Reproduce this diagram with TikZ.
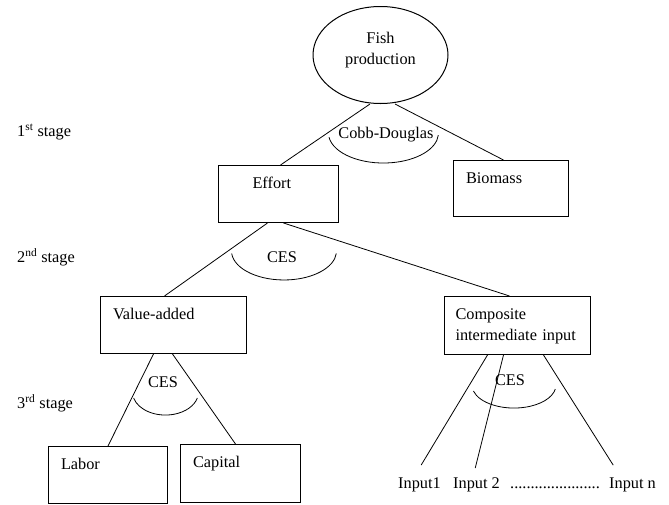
\documentclass[tikz,border=0pt]{standalone}
\usepackage{fontspec}
\setmainfont{Liberation Serif}
\usetikzlibrary{shapes.geometric}

\tikzset{
  box/.style={draw, line width=1pt, anchor=north west, align=left,
    inner xsep=12.5pt, inner ysep=11.5pt, text height=11pt},
  conn/.style={line width=0.8pt},
  arcline/.style={line width=0.8pt},
  lbl/.style={inner sep=0pt},
}

\begin{document}
\begin{tikzpicture}[x=1pt, y=-1pt, font=\fontsize{16.3pt}{21pt}\selectfont]
    \useasboundingbox (0,0) rectangle (669,504);

    % Top node
    \node[ellipse, draw, line width=1pt, minimum width=135pt, minimum height=97pt,
          inner sep=0pt, align=center, text height=32pt, text depth=13pt]
          (fish) at (380.5,55) {Fish\\production};

    % Boxes
    \node[box, text width=95pt, text depth=23pt] (effort) at (218,165) {\hspace*{21.5pt}Effort};
    \node[box, text width=90pt, text depth=22pt] (biomass) at (453,160) {Biomass};
    \node[box, text width=121pt, text depth=23pt] (valueadded) at (100,296) {Value-added};
    \node[box, inner xsep=11pt, text width=124pt, text depth=24pt] (composite) at (444,296)
          {Composite\\intermediate input};
    \node[box, text width=94pt, text depth=23pt] (labor) at (48,446) {Labor};
    \node[box, text width=95pt, text depth=24pt] (capital) at (180,444) {Capital};

    % Inputs
    \node[lbl, anchor=base west] (input1) at (398,488) {Input1};
    \node[lbl, anchor=base west] (input2) at (453,488) {Input 2};
    \node[lbl, anchor=base west] (dots) at (510,488) {......................};
    \node[lbl, anchor=base west] (inputn) at (609,488) {Input n};

    % Stages
    \node[lbl, anchor=west] (stage1) at (17,132) {1\textsuperscript{st} stage};
    \node[lbl, anchor=west] (stage2) at (17,257) {2\textsuperscript{nd} stage};
    \node[lbl, anchor=west] (stage3) at (17,403) {3\textsuperscript{rd} stage};

    % Connectors
    \draw[conn] ([xshift=-10.5pt]fish.south) -- ([xshift=2pt]effort.north);
    \draw[conn] ([xshift=14.5pt]fish.south) -- ([xshift=-7.5pt]biomass.north);
    \draw[conn] ([xshift=-11pt]effort.south) -- ([xshift=-9pt]valueadded.north);
    \draw[conn] ([xshift=5pt]effort.south) -- ([xshift=-8pt]composite.north);
    \draw[conn] ([xshift=-20pt]valueadded.south) -- (labor.north);
    \draw[conn] ([xshift=-1pt]valueadded.south) -- ([xshift=-5pt]capital.north);
    \draw[conn] ([xshift=-30pt]composite.south) -- ([xshift=1.7pt,yshift=12pt]input1.north);
    \draw[conn] ([xshift=-14pt]composite.south) -- ([xshift=-1.3pt,yshift=9pt]input2.north);
    \draw[conn] ([xshift=26pt]composite.south) -- ([xshift=-19.3pt,yshift=12pt]inputn.north);

    % Function arcs
    \draw[arcline] (329,137.2) arc[start angle=188, end angle=356, x radius=55pt, y radius=30pt];
    \draw[arcline] (231.7,253.5) arc[start angle=185, end angle=355, x radius=52.5pt, y radius=29pt];
    \draw[arcline] (133.6,398) arc[start angle=195, end angle=345, x radius=33pt, y radius=23pt];
    \draw[arcline] (473.4,391) arc[start angle=195, end angle=350, x radius=42pt, y radius=23pt];

    % Function labels
    \node[lbl, anchor=base] (cobb) at (386,138) {Cobb-Douglas};
    \node[lbl] (ces1) at (282,257) {CES};
    \node[lbl] (ces2) at (163,382) {CES};
    \node[lbl] (ces3) at (510,380) {CES};

\end{tikzpicture}
\end{document}
